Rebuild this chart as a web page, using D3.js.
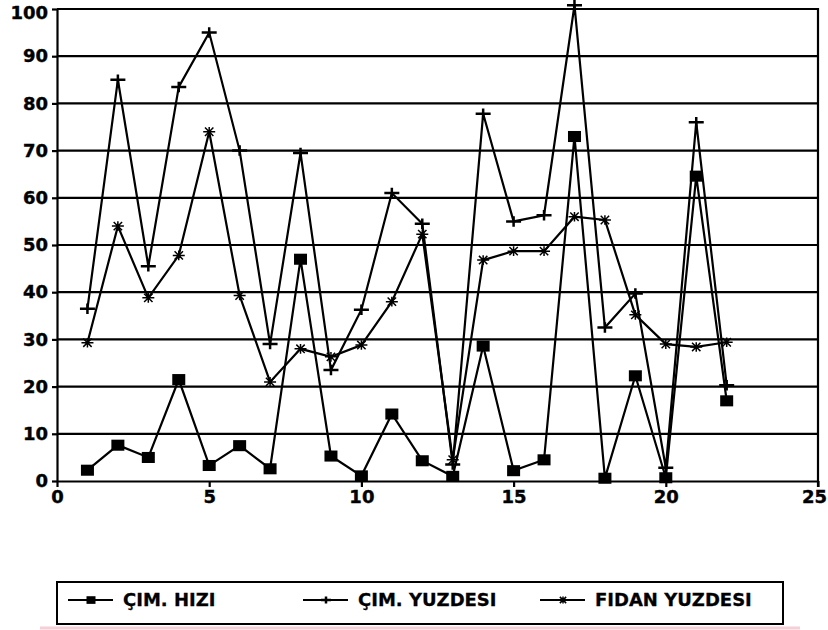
<!DOCTYPE html>
<html>
<head>
<meta charset="utf-8">
<script src="https://cdn.jsdelivr.net/npm/d3@7"></script>
<style>
  body { margin: 0; background: #fff; }
  svg { display: block; }
</style>
</head>
<body>
<div id="container"></div>
<script>
// data
const xs = [1, 2, 3, 4, 5, 6, 7, 8, 9, 10, 11, 12, 13, 14, 15, 16, 17, 18, 19, 20, 21, 22];
const cimHizi = [2.3, 7.6, 5, 21.5, 3.3, 7.5, 2.6, 47, 5.3, 1.1, 14.2, 4.3, 1, 28.6, 2.2, 4.5, 73, 0.6, 22.3, 0.7, 64.6, 17];
const cimYuzdesi = [36.5, 85, 45.5, 83.5, 95, 70, 29, 69.5, 23.5, 36.3, 61, 54.5, 3.5, 77.8, 55, 56.3, 100.8, 32.5, 39.7, 2.8, 76, 20.3];
const fidanYuzdesi = [29.3, 54, 38.8, 47.8, 74, 39.3, 21, 28, 26.3, 28.8, 38, 52.3, 4.5, 46.8, 48.7, 48.7, 56, 55.3, 35.2, 29, 28.4, 29.4];
const xTicks = [0, 5, 10, 15, 20, 25];
const yTicks = [0, 10, 20, 30, 40, 50, 60, 70, 80, 90, 100];
const seriesNames = ["ÇIM. HIZI", "ÇIM. YUZDESI", "FIDAN YUZDESI"];

const w = 828;
const h = 630;
const padL = 57, padR = 818, padT = 9, padB = 481;
const font = "DejaVu Sans, sans-serif";

const svg = d3
  .select("#container")
  .append("svg")
  .attr("width", w)
  .attr("height", h)
  .attr("viewBox", `0 0 ${w} ${h}`)
  .style("background-color", "white");

const xScale = d3.scaleLinear().domain([0, 25]).range([padL, padR]);
const yScale = d3.scaleLinear().domain([0, 100]).range([padB, padT]);

// horizontal grid
svg
  .append("g")
  .selectAll("line")
  .data(yTicks.filter((d) => d > 0))
  .enter()
  .append("line")
  .attr("x1", padL)
  .attr("x2", padR)
  .attr("y1", (d) => yScale(d))
  .attr("y2", (d) => yScale(d))
  .attr("stroke", "#000")
  .attr("stroke-width", 2.2);

// right border
svg
  .append("line")
  .attr("x1", padR)
  .attr("x2", padR)
  .attr("y1", yScale(100) - 1)
  .attr("y2", yScale(0) + 6)
  .attr("stroke", "#000")
  .attr("stroke-width", 2.2);

const xAxis = d3.axisBottom(xScale).tickValues(xTicks).tickSize(6).tickSizeOuter(0).tickPadding(3);
const yAxis = d3.axisLeft(yScale).tickValues(yTicks).tickSize(5).tickSizeOuter(0).tickPadding(4);

const gx = svg
  .append("g")
  .attr("id", "x-axis")
  .attr("transform", `translate(0, ${padB})`)
  .call(xAxis);

const gy = svg
  .append("g")
  .attr("id", "y-axis")
  .attr("transform", `translate(${padL}, 0)`)
  .call(yAxis);

[gx, gy].forEach((g) => {
  g.selectAll("path, line").attr("stroke", "#000").attr("stroke-width", 2.2);
  g.selectAll("text")
    .attr("fill", "#000")
    .attr("stroke", "#000")
    .attr("stroke-width", 0.4)
    .attr("font-family", font)
    .attr("font-weight", "bold")
    .attr("font-size", 18);
});
// keep the end labels inside the page
gx.selectAll(".tick text").filter((d) => d === 25).attr("dx", -4);
gy.selectAll(".tick text").filter((d) => d === 100).attr("dy", "0.5em");

// marker shapes
function drawSquare(g, x, y, s) {
  g.append("rect")
    .attr("x", x - s / 2)
    .attr("y", y - s * 0.42)
    .attr("width", s)
    .attr("height", s * 0.85)
    .attr("fill", "#000");
}
function drawPlus(g, x, y, s) {
  g.append("path")
    .attr("d", `M${x - s / 2},${y}H${x + s / 2}M${x},${y - s * 0.35}V${y + s * 0.35}`)
    .attr("stroke", "#000")
    .attr("stroke-width", 2.5)
    .attr("fill", "none");
}
function drawStar(g, x, y, s) {
  const r = s / 2;
  g.append("path")
    .attr(
      "d",
      `M${x - r},${y}H${x + r}M${x - r * 0.7},${y - r * 0.7}L${x + r * 0.7},${y + r * 0.7}` +
        `M${x - r * 0.7},${y + r * 0.7}L${x + r * 0.7},${y - r * 0.7}M${x},${y - r * 0.8}V${y + r * 0.8}`
    )
    .attr("stroke", "#000")
    .attr("stroke-width", 1.5)
    .attr("fill", "none");
}

const series = [
  { name: seriesNames[0], values: cimHizi, marker: drawSquare, size: 13 },
  { name: seriesNames[1], values: cimYuzdesi, marker: drawPlus, size: 15 },
  { name: seriesNames[2], values: fidanYuzdesi, marker: drawStar, size: 12 },
];

const line = d3
  .line()
  .x((d) => xScale(d[0]))
  .y((d) => yScale(d[1]));

series.forEach((s) => {
  const pts = xs.map((x, i) => [x, s.values[i]]);
  const g = svg.append("g");
  g.append("path")
    .attr("d", line(pts))
    .attr("fill", "none")
    .attr("stroke", "#000")
    .attr("stroke-width", 2.2)
    .attr("stroke-linejoin", "miter");
  pts.forEach((p) => s.marker(g, xScale(p[0]), yScale(p[1]), s.size));
});

// legend
const legend = svg.append("g");
legend
  .append("rect")
  .attr("x", 57)
  .attr("y", 582)
  .attr("width", 726)
  .attr("height", 42)
  .attr("fill", "none")
  .attr("stroke", "#000")
  .attr("stroke-width", 2);

svg
  .append("line")
  .attr("x1", 40)
  .attr("x2", 800)
  .attr("y1", 628)
  .attr("y2", 628)
  .attr("stroke", "#f6cfd6")
  .attr("stroke-width", 3);

const legendX = [68, 303, 540];
const legendMarkSize = [9, 10, 9];
series.forEach((s, i) => {
  const x0 = legendX[i];
  const y0 = 600;
  legend
    .append("line")
    .attr("x1", x0)
    .attr("x2", x0 + 45)
    .attr("y1", y0)
    .attr("y2", y0)
    .attr("stroke", "#000")
    .attr("stroke-width", 2);
  s.marker(legend, x0 + 23, y0, legendMarkSize[i]);
  legend
    .append("text")
    .attr("x", x0 + 55)
    .attr("y", y0 + 6)
    .attr("font-family", font)
    .attr("font-weight", "bold")
    .attr("font-size", 18)
    .attr("fill", "#000")
    .attr("stroke", "#000")
    .attr("stroke-width", 0.3)
    .text(s.name);
});
</script>
</body>
</html>
